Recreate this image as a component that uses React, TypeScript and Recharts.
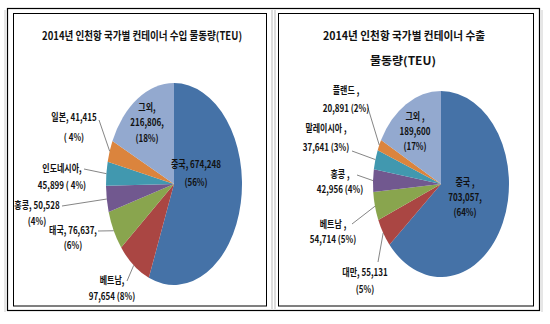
import { PieChart, Pie, Cell } from 'recharts'

// 수입 (import) — clockwise from 12 o'clock
const importNames = ['중국', '베트남', '태국', '홍콩', '인도네시아', '일본', '그외']
const importValues = [674248, 97654, 76637, 50528, 45899, 41415, 216806]
const importLabels = [
    ['중국, 674,248', '(56%)'],
    ['베트남,', '97,654 (8%)'],
    ['태국, 76,637,', '(6%)'],
    ['홍콩, 50,528', '(4%)'],
    ['인도네시아,', '45,899 ( 4%)'],
    ['일본, 41,415', '( 4%)'],
    ['그외,', '216,806,', '(18%)'],
]

// 수출 (export)
const exportNames = ['중국', '대만', '베트남', '홍콩', '말레이시아', '플랜드', '그외']
const exportValues = [703057, 55131, 54714, 42956, 37641, 20891, 189600]
const exportLabels = [
    ['중국 ,', '703,057,', '(64%)'],
    ['대만, 55,131', '(5%)'],
    ['베트남 ,', '54,714 (5%)'],
    ['홍콩 ,', '42,956 (4%)'],
    ['말레이시아 ,', '37,641 (3%)'],
    ['플랜드 ,', '20,891 (2%)'],
    ['그외 ,', '189,600', '(17%)'],
]

const COLORS = ['#4572A7', '#AA4643', '#89A54E', '#71588F', '#4198AF', '#DB843D', '#93A9CF']

const importData = importNames.map((name, i) => ({ name, value: importValues[i] }))
const exportData = exportNames.map((name, i) => ({ name, value: exportValues[i] }))

// label placement (x, y of first line, line height, leader start)
type LabelPos = { x: number, y: number, lh: number, lead?: [number, number] }
const importLayout: LabelPos[] = [
    { x: 196, y: 164, lh: 18 },
    { x: 112, y: 280, lh: 16, lead: [127, 281] },
    { x: 73, y: 230, lh: 15, lead: [98, 231] },
    { x: 37, y: 205, lh: 16, lead: [62, 206] },
    { x: 62, y: 168, lh: 17, lead: [84, 169] },
    { x: 74, y: 117, lh: 20, lead: [99, 120] },
    { x: 147, y: 107, lh: 15.5 },
]
const exportLayout: LabelPos[] = [
    { x: 465, y: 182, lh: 15 },
    { x: 365, y: 272, lh: 17, lead: [378, 262] },
    { x: 333, y: 224, lh: 15, lead: [352, 224] },
    { x: 340, y: 174, lh: 15, lead: [357, 175] },
    { x: 326, y: 128, lh: 19, lead: [352, 151] },
    { x: 346, y: 90, lh: 18, lead: [368, 108] },
    { x: 415, y: 116, lh: 15 },
]

const FONT = '"Noto Sans CJK KR", "Noto Sans", sans-serif'

// the original pies are stretched vertically, so draw sectors as ellipses
function ellipseSector(k: number) {
    return (p: any) => {
        const r = p.outerRadius
        const pt = (a: number) => {
            const rad = -a * Math.PI / 180
            return [p.cx + r * Math.cos(rad), p.cy + r * k * Math.sin(rad)]
        }
        const [x1, y1] = pt(p.startAngle)
        const [x2, y2] = pt(p.endAngle)
        const large = Math.abs(p.startAngle - p.endAngle) > 180 ? 1 : 0
        const d = `M${p.cx},${p.cy} L${x1},${y1} A${r},${r * k} 0 ${large} 1 ${x2},${y2} Z`
        return <path d={d} fill={p.fill} stroke="none" />
    }
}

function makeLabel(lines: string[][], layout: LabelPos[], k: number) {
    return (p: any) => {
        const i = p.index
        const L = layout[i]
        const rad = -p.midAngle * Math.PI / 180
        const ex = p.cx + p.outerRadius * Math.cos(rad)
        const ey = p.cy + p.outerRadius * k * Math.sin(rad)
        return (
            <g key={`lbl-${i}`}>
                {L.lead && <line x1={L.lead[0]} y1={L.lead[1]} x2={ex} y2={ey} stroke="#666" strokeWidth={0.8} />}
                {lines[i].map((t, j) => (
                    <text
                        key={j}
                        transform={`translate(${L.x},${L.y + j * L.lh}) scale(0.8,1)`}
                        textAnchor="middle"
                        dominantBaseline="central"
                        fontFamily={FONT}
                        fontWeight="bold"
                        fontSize={10}
                        fill="#111"
                    >
                        {t}
                    </text>
                ))}
            </g>
        )
    }
}

function Frames() {
    const title = { fontFamily: FONT, fontWeight: 'bold' as const, fontSize: 11, fill: '#111', textAnchor: 'middle' as const, dominantBaseline: 'central' as const, lengthAdjust: 'spacingAndGlyphs' as const }
    return (
        <svg width={550} height={324} style={{ position: 'absolute', left: 0, top: 0, pointerEvents: 'none' }}>
            <line x1={5} y1={10} x2={5} y2={312} stroke="#ccc" />
            <line x1={542} y1={10} x2={542} y2={312} stroke="#ccc" />
            <line x1={272} y1={10} x2={272} y2={309} stroke="#bbb" />
            <line x1={275} y1={10} x2={275} y2={309} stroke="#bbb" />
            <rect x={7.5} y={8.5} width={532} height={302} fill="none" stroke="#000" strokeWidth={1.2} />
            <rect x={13.5} y={13.5} width={253} height={292.5} fill="none" stroke="#000" strokeWidth={1} />
            <rect x={278.5} y={13.5} width={255} height={292.5} fill="none" stroke="#000" strokeWidth={1} />
            <text x={142} y={35} textLength={200} {...title}>2014년 인천항 국가별 컨테이너 수입 물동량(TEU)</text>
            <text x={404} y={35} textLength={162} {...title}>2014년 인천항 국가별 컨테이너 수출</text>
            <text x={403} y={60} textLength={66} {...title}>물동량(TEU)</text>
        </svg>
    )
}

export default function App() {
    return (
        <div style={{ position: 'absolute', left: 0, top: 0, width: 550, height: 324, background: '#fff' }}>
            <PieChart width={550} height={324}>
                <Pie
                    data={importData}
                    dataKey="value"
                    cx={169}
                    cy={179}
                    outerRadius={68}
                    startAngle={90}
                    endAngle={-270}
                    stroke="none"
                    shape={ellipseSector(101 / 68)}
                    label={makeLabel(importLabels, importLayout, 101 / 68)}
                    labelLine={false}
                    isAnimationActive={false}
                >
                    {importData.map((_d, i) => (
                        <Cell key={`imp-${i}`} fill={COLORS[i % COLORS.length]} />
                    ))}
                </Pie>
                <Pie
                    data={exportData}
                    dataKey="value"
                    cx={436}
                    cy={179}
                    outerRadius={68}
                    startAngle={90}
                    endAngle={-270}
                    stroke="none"
                    shape={ellipseSector(93 / 68)}
                    label={makeLabel(exportLabels, exportLayout, 93 / 68)}
                    labelLine={false}
                    isAnimationActive={false}
                >
                    {exportData.map((_d, i) => (
                        <Cell key={`exp-${i}`} fill={COLORS[i % COLORS.length]} />
                    ))}
                </Pie>
            </PieChart>
            <Frames />
        </div>
    )
}
